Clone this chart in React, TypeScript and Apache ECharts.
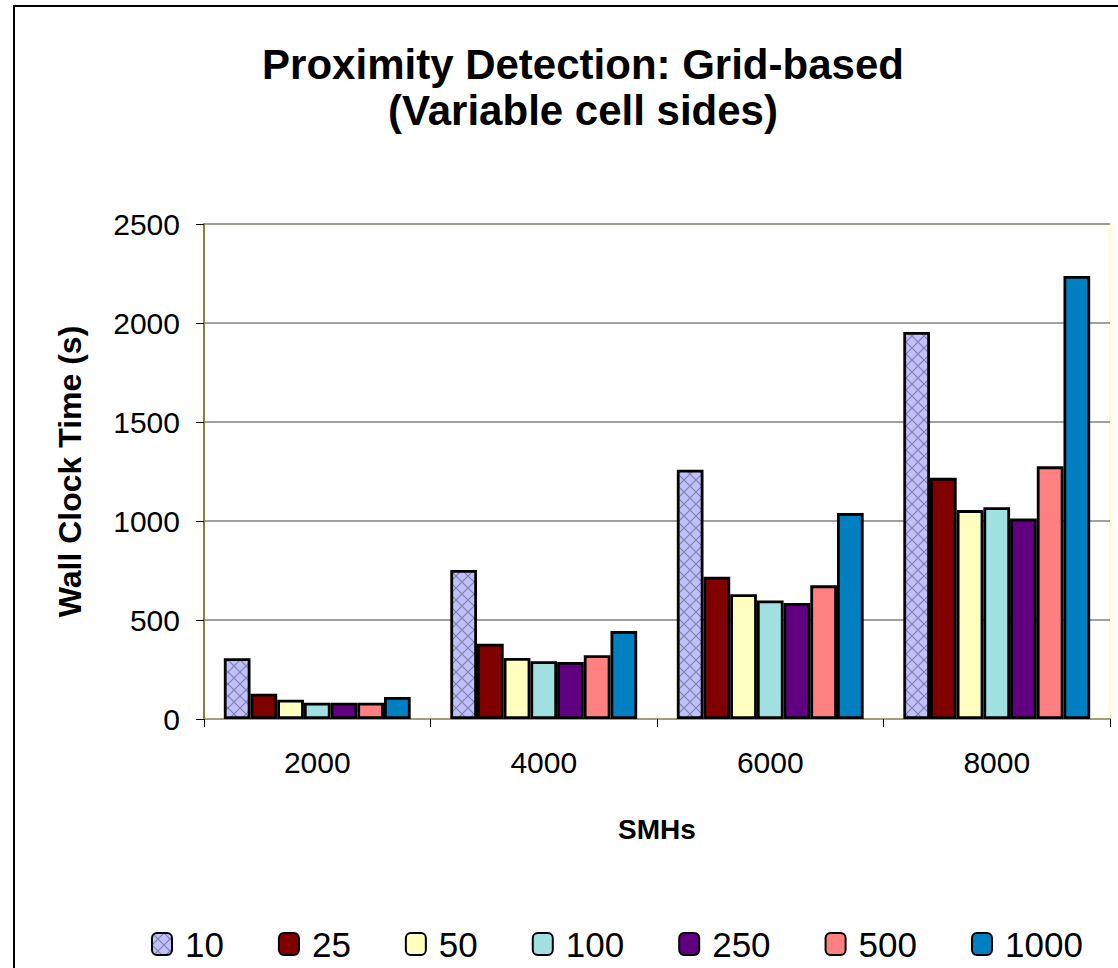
import React, { useEffect, useRef } from "react";
import * as echarts from "echarts";

const categories = ["2000", "4000", "6000", "8000"];
const seriesNames = ["10", "25", "50", "100", "250", "500", "1000"];
const s10 = [307, 753, 1259, 1955];
const s25 = [128, 380, 719, 1218];
const s50 = [97, 308, 630, 1055];
const s100 = [82, 292, 599, 1070];
const s250 = [82, 288, 586, 1012];
const s500 = [82, 322, 675, 1276];
const s1000 = [111, 444, 1040, 2237];
const seriesValues = [s10, s25, s50, s100, s250, s500, s1000];
const yTicks = [0, 500, 1000, 1500, 2000, 2500];
const colors = ["#C0C0FF", "#800000", "#FFFFC0", "#A0E0E0", "#600080", "#FF8080", "#0080C0"];

function makeHatch(): HTMLCanvasElement {
  const c = document.createElement("canvas");
  c.width = 12;
  c.height = 12;
  const ctx = c.getContext("2d")!;
  ctx.fillStyle = "#C0C0FF";
  ctx.fillRect(0, 0, 12, 12);
  ctx.strokeStyle = "#8080A8";
  ctx.lineWidth = 1.2;
  ctx.beginPath();
  ctx.moveTo(0, 0);
  ctx.lineTo(12, 12);
  ctx.moveTo(12, 0);
  ctx.lineTo(0, 12);
  ctx.stroke();
  return c;
}

export default function App() {
  const ref = useRef<HTMLDivElement>(null);
  useEffect(() => {
    if (!ref.current) return;
    const chart = echarts.init(ref.current, null, { renderer: "svg" });
    const hatch = makeHatch();
    const series = seriesNames.map((name, i) => ({
      name,
      type: "bar",
      data: seriesValues[i],
      barGap: "0%",
      barCategoryGap: "17.5%",
      itemStyle: {
        color: i === 0 ? { image: hatch, repeat: "repeat" } : colors[i],
        borderColor: "#000",
        borderWidth: 2.8,
      },
    }));
    chart.setOption({
      animation: false,
      backgroundColor: "#fff",
      title: {
        text: "Proximity Detection: Grid-based\n(Variable cell sides)",
        left: 578,
        top: 36,
        textAlign: "center",
        textStyle: {
          fontFamily: "Liberation Sans, Arial, sans-serif",
          fontWeight: "bold",
          fontSize: 42,
          lineHeight: 46,
          color: "#000",
        },
      },
      legend: {
        data: seriesNames,
        left: 146,
        top: 921,
        itemWidth: 20,
        itemHeight: 22,
        itemGap: 54,
        textStyle: {
          fontFamily: "Liberation Sans, Arial, sans-serif",
          fontSize: 35,
          lineHeight: 36,
          color: "#000",
          padding: [0, 0, 0, 8],
        },
      },
      grid: { left: 204, top: 224, width: 906, height: 495, containLabel: false, show: true, borderColor: "#FFFFC0", borderWidth: 2 },
      xAxis: {
        type: "category",
        data: categories,
        name: "SMHs",
        nameLocation: "middle",
        nameGap: 96,
        nameTextStyle: { fontFamily: "Liberation Sans, Arial, sans-serif", fontWeight: "bold", fontSize: 28, color: "#000" },
        axisLine: { lineStyle: { color: "#A0A070", width: 2 } },
        axisTick: { show: true, length: 8, lineStyle: { color: "#000" } },
        axisLabel: { fontFamily: "Liberation Sans, Arial, sans-serif", fontSize: 30, color: "#000", margin: 28 },
      },
      yAxis: {
        type: "value",
        min: yTicks[0],
        max: yTicks[yTicks.length - 1],
        interval: 500,
        name: "Wall Clock Time (s)",
        nameLocation: "middle",
        nameGap: 118,
        nameTextStyle: { fontFamily: "Liberation Sans, Arial, sans-serif", fontWeight: "bold", fontSize: 32, color: "#000" },
        axisLine: { show: true, lineStyle: { color: "#808050", width: 2 } },
        axisTick: { show: true, length: 8, lineStyle: { color: "#000" } },
        axisLabel: {
          fontFamily: "Liberation Sans, Arial, sans-serif",
          fontSize: 30,
          color: "#000",
          margin: 24,
          formatter: (v: number) => String(v),
        },
        splitLine: { show: true, lineStyle: { color: "#808080", width: 1.5 } },
      },
      graphic: [
        {
          type: "rect",
          shape: { x: 14, y: 6, width: 1200, height: 1000 },
          style: { fill: "none", stroke: "#000", lineWidth: 2 },
          silent: true,
          z: 100,
        },
      ],
      series,
    });
    return () => chart.dispose();
  }, []);
  return <div ref={ref} style={{ position: "absolute", left: 0, top: 0, width: 1118, height: 968 }} />;
}
